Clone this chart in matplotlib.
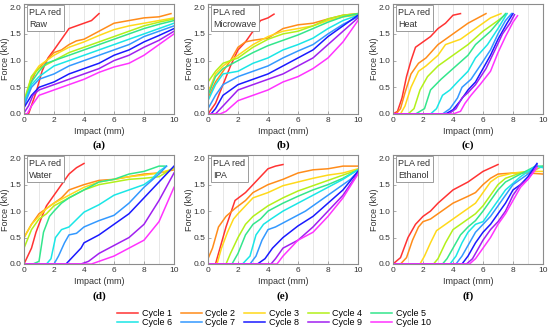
import matplotlib
matplotlib.use("Agg")
import matplotlib.pyplot as plt
from matplotlib.lines import Line2D

plt.rcParams["font.family"] = ["Liberation Sans", "DejaVu Sans"]

cycle_labels = [f"Cycle {i}" for i in range(1, 11)]
cycle_colors = ["#ff3333", "#ff8c1a", "#ffd91a", "#b3f01a", "#33e68c",
                "#1ae6e6", "#3399ff", "#1a1aff", "#a020f0", "#ff33ff"]
panel_titles = ["Raw", "Microwave", "Heat", "Water", "IPA", "Ethanol"]
panel_letters = ["(a)", "(b)", "(c)", "(d)", "(e)", "(f)"]
x_ticks = [0, 2, 4, 6, 8, 10]
y_ticks = [0.0, 0.5, 1.0, 1.5, 2.0]

raw_x = [
    [0, 0.3, 0.8, 1.2, 1.6, 2, 2.5, 3, 3.5, 4, 4.5, 5],
    [0, 0.3, 0.8, 1.5, 2, 2.5, 3, 3.5, 4, 5, 6, 7, 8, 9, 9.8],
    [0, 0.5, 1, 1.5, 2, 3, 4, 5, 6, 7, 8, 9, 10],
    [0, 0.5, 1, 2, 3, 4, 5, 6, 7, 8, 9, 10],
    [0, 0.5, 1, 1.5, 2, 3, 4, 5, 6, 7, 8, 9, 10],
    [0, 0.5, 1, 1.5, 2, 3, 4, 5, 6, 7, 8, 9, 10],
    [0, 0.5, 1, 1.5, 2, 3, 4, 5, 6, 7, 8, 9, 10],
    [0, 0.5, 1, 2, 3, 4, 5, 6, 7, 8, 9, 10],
    [0, 0.3, 0.6, 1, 2, 3, 4, 5, 6, 7, 8, 9, 10],
    [0, 0.2, 0.5, 1, 1.5, 2, 3, 4, 5, 6, 7, 8, 9, 10],
]
raw_y = [
    [0, 0, 0.4, 0.8, 1.05, 1.2, 1.4, 1.6, 1.65, 1.7, 1.75, 1.88],
    [0.1, 0.5, 0.8, 1.0, 1.15, 1.2, 1.3, 1.37, 1.4, 1.55, 1.7, 1.75, 1.8, 1.82, 1.88],
    [0.2, 0.7, 0.9, 1.0, 1.1, 1.25, 1.35, 1.47, 1.58, 1.65, 1.7, 1.75, 1.8],
    [0.25, 0.7, 0.85, 1.0, 1.15, 1.25, 1.35, 1.45, 1.55, 1.65, 1.72, 1.78],
    [0.2, 0.6, 0.8, 0.95, 1.0, 1.1, 1.2, 1.3, 1.4, 1.5, 1.6, 1.68, 1.75],
    [0.2, 0.55, 0.7, 0.8, 0.9, 1.0, 1.1, 1.2, 1.3, 1.4, 1.5, 1.6, 1.7],
    [0.15, 0.5, 0.65, 0.7, 0.75, 0.9, 1.0, 1.1, 1.2, 1.3, 1.45, 1.55, 1.65],
    [0.12, 0.35, 0.5, 0.6, 0.75, 0.85, 0.95, 1.1, 1.2, 1.35, 1.47, 1.6],
    [0.02, 0.15, 0.35, 0.45, 0.55, 0.65, 0.75, 0.85, 1.0, 1.1, 1.25, 1.38, 1.55],
    [0, 0, 0.15, 0.35, 0.4, 0.45, 0.55, 0.65, 0.78, 0.88, 0.95, 1.1, 1.3, 1.5],
]

microwave_x = [
    [0, 0.5, 1, 1.5, 2, 2.5, 3, 3.5, 4, 4.4],
    [0, 0.5, 1, 1.5, 2, 2.5, 3, 4, 5, 6, 7, 8, 9, 10],
    [0, 0.5, 1, 2, 3, 4, 5, 6, 7, 8, 9, 10],
    [0, 0.5, 1, 2, 3, 4, 5, 6, 7, 8, 9, 10],
    [0, 0.5, 1, 2, 3, 4, 5, 6, 7, 8, 9, 10],
    [0, 0.5, 1, 2, 3, 4, 5, 6, 7, 8, 9, 10],
    [0, 0.5, 1, 2, 3, 4, 5, 6, 7, 8, 9, 10],
    [0, 0.2, 0.5, 1, 2, 3, 4, 5, 6, 7, 8, 9, 10],
    [0, 0.5, 1, 1.5, 2, 3, 4, 5, 6, 7, 8, 9, 10],
    [0, 0.8, 1.2, 2, 3, 4, 5, 6, 7, 8, 9, 10],
]
microwave_y = [
    [0, 0.2, 0.55, 0.9, 1.2, 1.35, 1.55, 1.75, 1.8, 1.87],
    [0.3, 0.6, 0.8, 1.0, 1.25, 1.35, 1.38, 1.42, 1.6, 1.67, 1.7, 1.78, 1.85, 1.88],
    [0.4, 0.75, 0.9, 1.1, 1.3, 1.45, 1.55, 1.6, 1.65, 1.75, 1.82, 1.85],
    [0.6, 0.8, 0.95, 1.05, 1.25, 1.4, 1.5, 1.55, 1.65, 1.78, 1.85, 1.88],
    [0.35, 0.7, 0.85, 1.0, 1.15, 1.28, 1.38, 1.48, 1.6, 1.72, 1.82, 1.88],
    [0.25, 0.55, 0.75, 0.8, 0.95, 1.05, 1.2, 1.3, 1.42, 1.6, 1.75, 1.85],
    [0.1, 0.35, 0.55, 0.7, 0.8, 0.9, 1.05, 1.18, 1.3, 1.5, 1.68, 1.82],
    [0, 0, 0.1, 0.35, 0.55, 0.65, 0.75, 0.9, 1.05, 1.2, 1.45, 1.65, 1.85],
    [0, 0, 0.15, 0.3, 0.45, 0.55, 0.65, 0.75, 0.9, 1.05, 1.3, 1.55, 1.8],
    [0, 0, 0.05, 0.25, 0.35, 0.45, 0.6, 0.7, 0.85, 1.05, 1.35, 1.75],
]

heat_x = [
    [0, 0.3, 0.6, 0.9, 1.2, 1.5, 2, 2.5, 3, 3.5, 4, 4.5],
    [0, 0.2, 0.5, 0.8, 1.2, 1.7, 2.2, 3, 4, 5, 6, 6.2],
    [0, 0.5, 0.8, 1.2, 1.7, 2.2, 3, 3.5, 4.5, 5.5, 6.5, 7.2],
    [0, 1, 1.4, 1.8, 2.3, 3, 4, 5, 6, 7, 7.6],
    [0, 1.5, 2.1, 2.5, 3.2, 3.6, 4.2, 5, 5.5, 6.5, 7.5],
    [0, 2.5, 2.9, 3.3, 3.8, 4.3, 5, 5.5, 6.3, 7, 7.6],
    [0, 3.3, 3.8, 4.3, 4.6, 5.2, 5.8, 6.5, 7, 7.5, 7.9],
    [0, 3.5, 4, 4.5, 5, 5.5, 6, 6.5, 7, 7.6, 8],
    [0, 3.7, 4.2, 4.6, 5, 5.5, 6.2, 6.8, 7.3, 7.8, 8.1],
    [0, 4, 4.5, 4.8, 5.2, 5.8, 6.5, 7, 7.5, 8, 8.3],
]
heat_y = [
    [0, 0.05, 0.3, 0.7, 1.0, 1.25, 1.35, 1.45, 1.6, 1.7, 1.85, 1.88],
    [0, 0, 0.1, 0.4, 0.75, 0.95, 1.05, 1.3, 1.5, 1.7, 1.85, 1.88],
    [0, 0, 0.15, 0.5, 0.8, 0.9, 1.1, 1.3, 1.4, 1.6, 1.8, 1.88],
    [0, 0, 0.1, 0.45, 0.7, 0.9, 1.1, 1.3, 1.55, 1.75, 1.88],
    [0, 0, 0.1, 0.45, 0.65, 0.75, 0.9, 1.1, 1.3, 1.55, 1.88],
    [0, 0, 0.1, 0.35, 0.45, 0.6, 0.8, 1.05, 1.3, 1.6, 1.88],
    [0, 0, 0.1, 0.3, 0.5, 0.65, 0.9, 1.2, 1.5, 1.75, 1.88],
    [0, 0, 0.08, 0.25, 0.45, 0.6, 0.85, 1.1, 1.4, 1.7, 1.88],
    [0, 0, 0.1, 0.3, 0.4, 0.55, 0.85, 1.2, 1.5, 1.7, 1.86],
    [0, 0, 0.05, 0.2, 0.35, 0.55, 0.8, 1.15, 1.45, 1.72, 1.84],
]

water_x = [
    [0, 0.5, 0.8, 1.2, 1.5, 2, 2.5, 3, 3.5, 4],
    [0, 0.5, 1, 1.5, 2, 2.5, 3, 4, 5, 6, 7, 8, 9, 10],
    [0, 0.5, 1, 1.5, 2, 3, 4, 5, 6, 7, 8, 9, 10],
    [0, 0.5, 1, 1.5, 2, 3, 4, 5, 6, 7, 8, 9, 10],
    [0, 0.6, 1, 1.3, 1.7, 2, 2.5, 3, 4, 5, 6, 7, 8, 9, 9.4],
    [0, 1.5, 1.8, 2.1, 2.5, 3, 4, 5, 6, 7, 8, 8.5, 9, 9.5],
    [0, 2, 2.3, 2.7, 3, 3.5, 4, 5, 6, 7, 7.5, 8, 9, 9.5],
    [0, 2.8, 3.3, 3.8, 4, 5, 6, 7, 8, 9, 10],
    [0, 3.8, 4.3, 5, 6, 7, 8, 9, 10],
    [0, 4.5, 5, 6, 7, 8, 9, 10],
]
water_y = [
    [0, 0.3, 0.6, 0.9, 1.1, 1.3, 1.5, 1.7, 1.82, 1.9],
    [0.5, 0.75, 0.95, 1.05, 1.15, 1.25, 1.4, 1.5, 1.58, 1.6, 1.65, 1.7, 1.72, 1.78],
    [0.5, 0.75, 0.9, 1.05, 1.15, 1.3, 1.45, 1.55, 1.6, 1.65, 1.68, 1.72, 1.8],
    [0.3, 0.65, 0.85, 0.95, 1.1, 1.25, 1.4, 1.5, 1.55, 1.6, 1.62, 1.65, 1.82],
    [0, 0, 0.05, 0.6, 0.9, 1.0, 1.15, 1.25, 1.4, 1.55, 1.6, 1.7, 1.75, 1.85, 1.85],
    [0, 0, 0.1, 0.5, 0.65, 0.7, 0.98, 1.12, 1.3, 1.4, 1.5, 1.6, 1.75, 1.85],
    [0, 0, 0.15, 0.4, 0.55, 0.58, 0.7, 0.82, 0.92, 1.15, 1.3, 1.45, 1.7, 1.85],
    [0, 0, 0.15, 0.3, 0.4, 0.55, 0.75, 0.95, 1.25, 1.55, 1.85],
    [0, 0, 0.05, 0.2, 0.35, 0.5, 0.75, 1.2, 1.72],
    [0, 0, 0.05, 0.15, 0.3, 0.45, 0.8, 1.45],
]

ipa_x = [
    [0, 0.5, 0.8, 1.2, 1.5, 1.8, 2.5, 3, 3.5, 4, 4.5, 5],
    [0, 0.3, 0.7, 1.2, 1.8, 2.5, 3, 4, 5, 6, 7, 8, 9, 10],
    [0, 0.6, 0.9, 1.3, 1.7, 2, 2.5, 3, 4, 5, 6, 7, 8, 9, 10],
    [0, 1.2, 1.5, 2, 2.5, 3, 4, 5, 6, 7, 8, 9, 10],
    [0, 1.6, 2, 2.5, 3, 3.5, 4, 5, 6, 7, 8, 9, 10],
    [0, 2.3, 2.8, 3.2, 3.7, 4.2, 5, 6, 7, 8, 9, 10],
    [0, 2.8, 3.2, 3.6, 4, 4.5, 5.5, 6.5, 7.5, 8.5, 9.5, 10],
    [0, 3.3, 3.8, 4.3, 5, 6, 7, 8, 9, 10],
    [0, 4.2, 4.5, 5, 6, 7, 8, 9, 10],
    [0, 4.6, 5, 5.5, 6, 7, 8, 9, 10],
]
ipa_y = [
    [0, 0, 0.3, 0.7, 0.95, 1.2, 1.35, 1.5, 1.65, 1.8, 1.85, 1.88],
    [0.1, 0.3, 0.7, 0.9, 1.05, 1.2, 1.35, 1.5, 1.6, 1.72, 1.78, 1.8, 1.85, 1.85],
    [0, 0, 0.3, 0.6, 0.85, 0.95, 1.1, 1.25, 1.35, 1.48, 1.55, 1.62, 1.68, 1.72, 1.8],
    [0, 0, 0.2, 0.5, 0.75, 0.9, 1.1, 1.25, 1.38, 1.48, 1.58, 1.68, 1.78],
    [0, 0, 0.2, 0.55, 0.75, 0.85, 1.0, 1.15, 1.28, 1.4, 1.5, 1.62, 1.78],
    [0, 0, 0.15, 0.55, 0.75, 0.85, 1.0, 1.15, 1.3, 1.45, 1.6, 1.78],
    [0, 0, 0.15, 0.45, 0.65, 0.7, 0.85, 1.0, 1.2, 1.4, 1.6, 1.75],
    [0, 0, 0.1, 0.3, 0.5, 0.72, 0.9, 1.15, 1.4, 1.75],
    [0, 0, 0.1, 0.3, 0.45, 0.7, 1.0, 1.3, 1.72],
    [0, 0, 0.15, 0.3, 0.45, 0.6, 0.9, 1.25, 1.7],
]

ethanol_x = [
    [0, 0.5, 1, 1.5, 2, 2.5, 3, 4, 5, 6, 7],
    [0, 0.5, 0.9, 1.3, 1.7, 2, 2.5, 3, 4, 5, 5.5, 6, 6.5, 7, 8, 9, 10],
    [0, 1.8, 2.1, 2.5, 2.9, 3.5, 4, 5, 5.5, 6, 6.5, 7, 8, 9, 10],
    [0, 2.7, 3, 3.5, 4, 5, 5.5, 6, 6.5, 7, 7.5, 8.5, 9.5, 10],
    [0, 3.3, 3.6, 4, 4.5, 5, 5.5, 6, 6.5, 7, 7.5, 8.5, 9.5, 10],
    [0, 3.8, 4.2, 4.6, 5, 5.5, 6, 6.5, 7, 7.5, 8.5, 9.5, 10],
    [0, 4.2, 4.6, 5, 5.5, 6, 6.5, 7, 7.5, 8, 9, 9.6],
    [0, 4.6, 5, 5.5, 6, 6.5, 7, 7.5, 8, 8.5, 9, 9.6],
    [0, 4.9, 5.3, 5.7, 6, 6.5, 7, 7.5, 8, 8.5, 9, 9.6],
    [0, 5.1, 5.5, 6, 6.5, 7, 7.5, 8, 8.5, 9, 9.6],
]
ethanol_y = [
    [0, 0.12, 0.5, 0.75, 0.9, 1.0, 1.15, 1.4, 1.55, 1.75, 1.88],
    [0, 0, 0.12, 0.45, 0.7, 0.8, 0.85, 0.95, 1.15, 1.28, 1.35, 1.5, 1.62, 1.7, 1.72, 1.72, 1.7],
    [0, 0, 0.15, 0.4, 0.63, 0.75, 0.85, 1.05, 1.15, 1.35, 1.55, 1.65, 1.72, 1.75, 1.75],
    [0, 0, 0.1, 0.4, 0.65, 0.85, 0.95, 1.1, 1.3, 1.5, 1.62, 1.72, 1.78, 1.85],
    [0, 0, 0.1, 0.3, 0.55, 0.7, 0.82, 1.0, 1.2, 1.4, 1.55, 1.7, 1.85, 1.85],
    [0, 0, 0.15, 0.4, 0.6, 0.75, 0.8, 1.0, 1.2, 1.4, 1.65, 1.85, 1.82],
    [0, 0, 0.15, 0.35, 0.6, 0.75, 0.9, 1.1, 1.3, 1.5, 1.7, 1.88],
    [0, 0, 0.15, 0.4, 0.6, 0.75, 0.95, 1.15, 1.4, 1.5, 1.65, 1.9],
    [0, 0, 0.1, 0.3, 0.45, 0.65, 0.8, 1.0, 1.3, 1.5, 1.6, 1.85],
    [0, 0, 0.1, 0.3, 0.5, 0.75, 0.95, 1.2, 1.45, 1.6, 1.82],
]

panels_x = [raw_x, microwave_x, heat_x, water_x, ipa_x, ethanol_x]
panels_y = [raw_y, microwave_y, heat_y, water_y, ipa_y, ethanol_y]

W, H = 550, 330
fig = plt.figure(figsize=(W / 100, H / 100), dpi=100)
lefts = [24, 208, 393]
rows = [(4, 114), (155, 264)]
letter_y = [145, 296]
frame_col = "#8c8c8c"
txt_col = "#333333"

for i in range(6):
    r, c = divmod(i, 3)
    top, bot = rows[r]
    ax = fig.add_axes([lefts[c] / W, 1 - bot / H, 150 / W, (bot - top) / H])
    for k in range(10):
        ax.plot(panels_x[i][k], panels_y[i][k], color=cycle_colors[k], lw=1.1,
                solid_joinstyle="round")
    ax.set_xlim(0, 10)
    ax.set_ylim(0, 2.06)
    ax.set_xticks(x_ticks)
    ax.set_xticks(range(0, 11), minor=True)
    ax.set_yticks(y_ticks)
    ax.set_yticklabels([f"{v:.1f}" for v in y_ticks])
    ax.grid(axis="x", which="both", color="#e3e3e3", lw=0.6)
    ax.set_axisbelow(True)
    ax.tick_params(labelsize=6, length=2, width=0.5, direction="in",
                   color=frame_col, pad=2, labelcolor=txt_col)
    ax.tick_params(which="minor", length=0)
    for s in ax.spines.values():
        s.set_color(frame_col)
        s.set_linewidth(0.8)
    ax.set_xlabel("Impact (mm)", fontsize=6.5, labelpad=2.5, color=txt_col)
    ax.set_ylabel("Force (kN)", fontsize=6.5, color=txt_col)
    ax.yaxis.set_label_coords(-0.095, 0.5)
    ax.text(0.035, 0.965, "PLA red\n" + panel_titles[i], transform=ax.transAxes,
            ha="left", va="top", fontsize=6.5, color=txt_col, linespacing=1.4,
            bbox=dict(boxstyle="square,pad=0.3", fc="white", ec=frame_col, lw=0.6))
    fig.text((lefts[c] + 75) / W, 1 - letter_y[r] / H, panel_letters[i],
             ha="center", va="center", fontsize=8, fontweight="bold",
             family="Liberation Serif")

handles = [Line2D([], [], color=cycle_colors[k], lw=1.1) for k in range(10)]
order = [0, 5, 1, 6, 2, 7, 3, 8, 4, 9]
fig.legend([handles[j] for j in order], [cycle_labels[j] for j in order],
           loc="center", bbox_to_anchor=(274 / W, 1 - 318 / H), ncol=5,
           fontsize=6.5, frameon=False, handlelength=2.3, handletextpad=0.4,
           columnspacing=1.0, labelspacing=0.05, borderpad=0)

fig.savefig("out.png", dpi=100)
